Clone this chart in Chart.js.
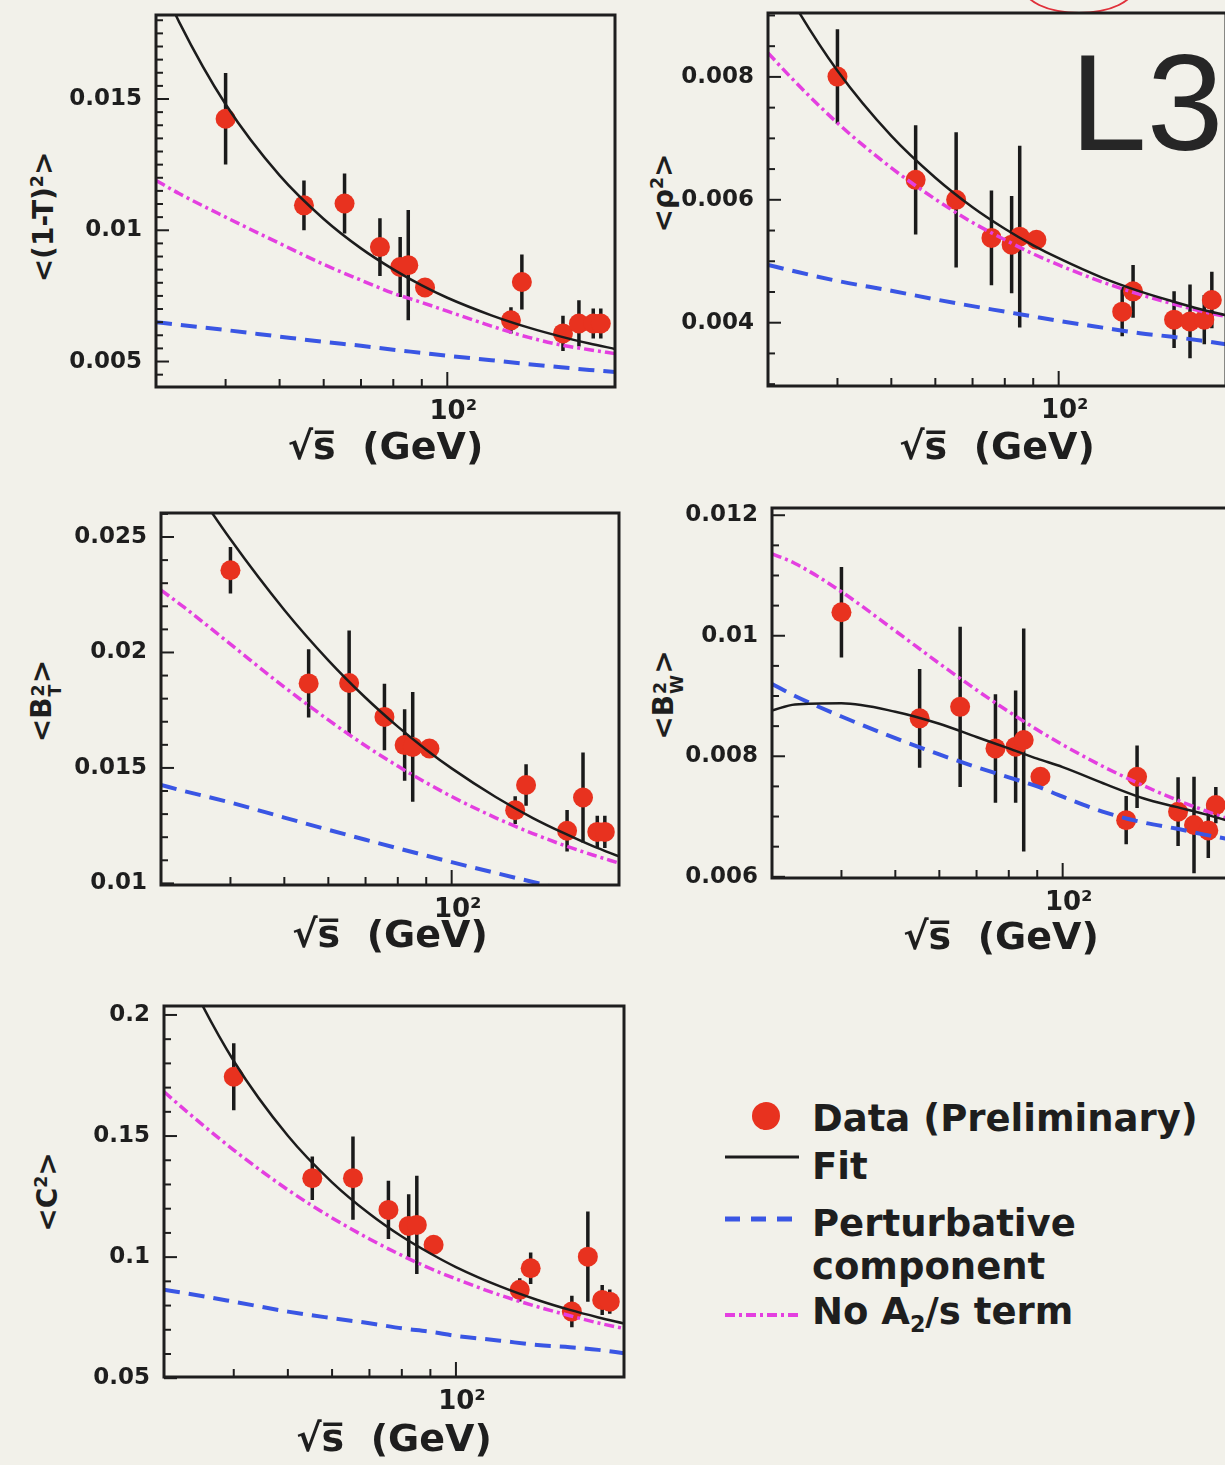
<!DOCTYPE html>
<html>
<head>
<meta charset="utf-8">
<script src="https://cdn.jsdelivr.net/npm/chart.js@4.4.1/dist/chart.umd.min.js"></script>
<style>
html,body{margin:0;padding:0;}
body{width:1225px;height:1465px;overflow:hidden;position:relative;background:#f2f1ea;font-family:"DejaVu Sans",sans-serif;color:#1e1e1e;}
canvas{position:absolute;}
.ytitle{position:absolute;transform:translate(-50%,-50%) rotate(-90deg);white-space:nowrap;font-weight:bold;font-size:28px;line-height:1;}
.ytitle sup{font-size:0.62em;vertical-align:0.6em;line-height:0;}
.stack{display:inline-flex;flex-direction:column;font-size:0.62em;line-height:0.95;vertical-align:0.4em;margin:0 1px;}
.leg{position:absolute;font-weight:bold;font-size:37px;line-height:1;white-space:nowrap;}
.leg sub{font-size:0.6em;vertical-align:-0.35em;line-height:0;}
</style>
</head>
<body>
<div class="ytitle" style="left:44px;top:217px;">&lt;(1-T)<sup>2</sup>&gt;</div>
<div class="ytitle" style="left:664px;top:193px;">&lt;ρ<sup>2</sup>&gt;</div>
<div class="ytitle" style="left:46px;top:701px;">&lt;B<span class="stack"><span>2</span><span>T</span></span>&gt;</div>
<div class="ytitle" style="left:668px;top:695px;">&lt;B<span class="stack"><span>2</span><span>W</span></span>&gt;</div>
<div class="ytitle" style="left:48px;top:1192px;">&lt;C<sup>2</sup>&gt;</div>

<div style="position:absolute;left:1070px;top:33px;font-family:'Liberation Sans',Arial,sans-serif;font-size:138px;line-height:1;color:#262626;">L3</div>
<div style="position:absolute;left:1022px;top:-42px;width:110px;height:52px;border:2px solid #e0303a;border-radius:50%;"></div>

<svg style="position:absolute;left:720px;top:1095px;" width="90" height="240">
  <circle cx="46" cy="21" r="14" fill="#e8321f"/>
  <line x1="5" y1="62" x2="79" y2="62" stroke="#1c1c1c" stroke-width="3"/>
  <line x1="5" y1="124" x2="80" y2="124" stroke="#3a56e4" stroke-width="5" stroke-dasharray="15 11"/>
  <line x1="5" y1="220" x2="82" y2="220" stroke="#e43fe0" stroke-width="4" stroke-dasharray="10 4 3 4"/>
</svg>
<div class="leg" style="left:812px;top:1100px;">Data (Preliminary)</div>
<div class="leg" style="left:812px;top:1148px;">Fit</div>
<div class="leg" style="left:812px;top:1205px;">Perturbative</div>
<div class="leg" style="left:812px;top:1248px;">component</div>
<div class="leg" style="left:812px;top:1293px;">No A<sub>2</sub>/s term</div>

<script>
// ---------- data ----------
const energies = [40, 55.3, 65.4, 75.7, 82.3, 85.1, 91.2, 130.1, 136.1, 161.3, 172.3, 182.8, 188.6];

const thrustVal = [0.01425, 0.01095, 0.01102, 0.00936, 0.0086, 0.00867, 0.00782, 0.00657, 0.00803, 0.00607, 0.00645, 0.00645, 0.00645];
const thrustErr = [0.00174, 0.00095, 0.00114, 0.0011, 0.00114, 0.0021, 0.0001, 0.0005, 0.00105, 0.00067, 0.00088, 0.00057, 0.00057];

const rhoVal = [0.008005, 0.006325, 0.006, 0.00538, 0.00527, 0.0054, 0.00535, 0.00418, 0.00451, 0.00405, 0.00402, 0.00405, 0.00437];
const rhoErr = [0.00077, 0.00089, 0.0011, 0.00077, 0.00079, 0.00148, 0.0001, 0.0004, 0.00043, 0.00046, 0.0006, 0.0004, 0.00046];

const btVal = [0.02356, 0.01866, 0.01868, 0.01721, 0.01599, 0.01591, 0.01584, 0.01317, 0.01426, 0.01228, 0.01372, 0.01223, 0.01223];
const btErr = [0.00101, 0.00148, 0.00227, 0.00144, 0.00155, 0.00238, 0.0001, 0.0006, 0.0009, 0.0009, 0.00195, 0.0007, 0.0007];

const bwVal = [0.01039, 0.00863, 0.00882, 0.00813, 0.00816, 0.00827, 0.00766, 0.00694, 0.00766, 0.00708, 0.00686, 0.00677, 0.00719];
const bwErr = [0.00075, 0.00082, 0.00133, 0.0009, 0.00093, 0.00185, 0.0001, 0.0004, 0.00052, 0.00057, 0.0008, 0.00046, 0.0003];

const cVal = [0.1745, 0.1326, 0.1326, 0.1195, 0.1129, 0.1133, 0.1051, 0.0865, 0.0954, 0.0775, 0.1002, 0.0823, 0.0816];
const cErr = [0.0138, 0.009, 0.0172, 0.012, 0.0131, 0.0203, 0.001, 0.0048, 0.0065, 0.0065, 0.0186, 0.0062, 0.005];

// curves, sampled at these energies
const curveE = [30, 33, 40, 50, 60, 70, 80, 90, 100, 120, 140, 160, 180, 200];

const thrustFit  = [0.01987, 0.01794, 0.0148, 0.01209, 0.01043, 0.00931, 0.00851, 0.0079, 0.00743, 0.00676, 0.00629, 0.00595, 0.00569, 0.00548];
const thrustNoA2 = [0.0119, 0.0114, 0.0105, 0.0095, 0.0087, 0.0081, 0.0076, 0.00725, 0.00692, 0.00635, 0.00592, 0.00563, 0.00545, 0.0053];
const thrustPert = [0.0065, 0.0064, 0.0062, 0.00595, 0.00575, 0.0056, 0.00545, 0.00533, 0.00522, 0.00505, 0.0049, 0.00478, 0.00468, 0.0046];

const rhoFit  = [0.00996, 0.00927, 0.0081, 0.00704, 0.00636, 0.00588, 0.00553, 0.00526, 0.00505, 0.00473, 0.00451, 0.00435, 0.00422, 0.00412];
const rhoNoA2 = [0.00839, 0.00799, 0.00725, 0.00652, 0.00601, 0.00563, 0.00535, 0.00512, 0.00494, 0.00466, 0.00446, 0.00431, 0.00419, 0.0041];
const rhoPert = [0.00494, 0.00485, 0.00468, 0.00452, 0.00438, 0.00427, 0.00418, 0.0041, 0.00403, 0.00392, 0.00383, 0.00377, 0.00371, 0.00365];

const btFit  = [0.02944, 0.02787, 0.0249, 0.02184, 0.01966, 0.01804, 0.01679, 0.01579, 0.01498, 0.01374, 0.01283, 0.01215, 0.0116, 0.01117];
const btNoA2 = [0.0227, 0.02196, 0.02036, 0.0185, 0.01708, 0.01596, 0.01508, 0.01436, 0.01376, 0.01284, 0.01216, 0.01163, 0.01122, 0.01088];
const btPert = [0.01426, 0.0140, 0.0135, 0.01285, 0.01232, 0.01189, 0.01152, 0.0112, 0.01092, 0.01045, 0.01006, 0.00973, 0.00945, 0.0092];

const bwFit  = [0.00876, 0.00886, 0.00888, 0.00874, 0.00854, 0.00832, 0.00813, 0.00796, 0.00782, 0.00753, 0.0073, 0.00716, 0.00704, 0.00692];
const bwNoA2 = [0.01136, 0.0112, 0.01073, 0.01008, 0.00954, 0.0091, 0.00874, 0.00844, 0.00819, 0.0078, 0.00751, 0.00728, 0.0071, 0.00695];
const bwPert = [0.0092, 0.0090, 0.00866, 0.0083, 0.00803, 0.00782, 0.00765, 0.0075, 0.00733, 0.00706, 0.0069, 0.0068, 0.0067, 0.00662];

const cFit  = [0.238, 0.2165, 0.181, 0.1501, 0.1309, 0.1179, 0.1085, 0.1015, 0.0959, 0.0879, 0.0823, 0.0782, 0.0751, 0.0726];
const cNoA2 = [0.1683, 0.160, 0.1442, 0.1278, 0.1162, 0.1075, 0.1007, 0.0953, 0.091, 0.0843, 0.0795, 0.0758, 0.0728, 0.0705];
const cPert = [0.0865, 0.085, 0.0816, 0.0775, 0.0748, 0.0727, 0.0706, 0.0692, 0.0675, 0.0655, 0.0637, 0.0628, 0.0617, 0.0603];

// axis tick labels
const xMajorTicks = [100];
const xTickLabels = ['10²'];
const xMinorTicks = [40, 50, 60, 70, 80, 90];
const xTitle = '√s̅  (GeV)';

const thrustTicks = [0.005, 0.01, 0.015];     const thrustLabels = ['0.005', '0.01', '0.015'];
const rhoTicks = [0.004, 0.006, 0.008];       const rhoLabels = ['0.004', '0.006', '0.008'];
const btTicks = [0.01, 0.015, 0.02, 0.025];   const btLabels = ['0.01', '0.015', '0.02', '0.025'];
const bwTicks = [0.006, 0.008, 0.01, 0.012];  const bwLabels = ['0.006', '0.008', '0.01', '0.012'];
const cTicks = [0.05, 0.1, 0.15, 0.2];        const cLabels = ['0.05', '0.1', '0.15', '0.2'];

// ---------- layout / style ----------
const panels = [
  {canvas:{x:0,   y:0,   w:640, h:472}, frame:{l:156, t:15,  r:615,  b:387},  yMin:0.00403, yMax:0.0182,
   vals:thrustVal, errs:thrustErr, fit:thrustFit, noA2:thrustNoA2, pert:thrustPert, ticks:thrustTicks, labels:thrustLabels, minor:0.0005},
  {canvas:{x:640, y:0,   w:600, h:472}, frame:{l:768, t:13,  r:1226, b:386},  yMin:0.00297, yMax:0.00904,
   vals:rhoVal, errs:rhoErr, fit:rhoFit, noA2:rhoNoA2, pert:rhoPert, ticks:rhoTicks, labels:rhoLabels, minor:0.0005},
  {canvas:{x:0,   y:490, w:640, h:470}, frame:{l:161, t:513, r:619,  b:885},  yMin:0.00993, yMax:0.02604,
   vals:btVal, errs:btErr, fit:btFit, noA2:btNoA2, pert:btPert, ticks:btTicks, labels:btLabels, minor:0.001},
  {canvas:{x:640, y:490, w:600, h:472}, frame:{l:772, t:508, r:1230, b:878},  yMin:0.00598, yMax:0.01212,
   vals:bwVal, errs:bwErr, fit:bwFit, noA2:bwNoA2, pert:bwPert, ticks:bwTicks, labels:bwLabels, minor:0.0005},
  {canvas:{x:0,   y:985, w:640, h:479}, frame:{l:164, t:1006, r:624, b:1377}, yMin:0.0505, yMax:0.2037,
   vals:cVal, errs:cErr, fit:cFit, noA2:cNoA2, pert:cPert, ticks:cTicks, labels:cLabels, minor:0.01}
];

const INK = '#1e1e1e';
const RED = '#e8321f';

function framePlugin(p) {
  return {
    id: 'frameTicks',
    afterDatasetsDraw(chart) {
      const {ctx, chartArea: a, scales: {x, y}} = chart;
      ctx.save();
      ctx.strokeStyle = INK;
      ctx.lineWidth = 2;
      const seg = (x1, y1, x2, y2) => { ctx.beginPath(); ctx.moveTo(x1, y1); ctx.lineTo(x2, y2); ctx.stroke(); };
      p.ticks.forEach(v => { const py = y.getPixelForValue(v); seg(a.left, py, a.left + 13, py); });
      const n0 = Math.ceil(p.yMin / p.minor), n1 = Math.floor(p.yMax / p.minor);
      for (let n = n0; n <= n1; n++) {
        const v = n * p.minor;
        if (p.ticks.some(t => Math.abs(t - v) < p.minor / 10)) continue;
        const py = y.getPixelForValue(v);
        seg(a.left, py, a.left + 7, py);
      }
      xMajorTicks.forEach(v => { const px = x.getPixelForValue(v); seg(px, a.bottom, px, a.bottom - 15); });
      xMinorTicks.forEach(v => { const px = x.getPixelForValue(v); seg(px, a.bottom, px, a.bottom - 8); });
      ctx.lineWidth = 3;
      ctx.strokeRect(a.left, a.top, a.right - a.left, a.bottom - a.top);
      ctx.restore();
    }
  };
}

panels.forEach(p => {
  const cv = document.createElement('canvas');
  cv.width = p.canvas.w; cv.height = p.canvas.h;
  cv.style.left = p.canvas.x + 'px'; cv.style.top = p.canvas.y + 'px';
  document.body.appendChild(cv);

  const padL = p.frame.l - p.canvas.x;
  const padT = p.frame.t - p.canvas.y;
  const padR = p.canvas.x + p.canvas.w - p.frame.r;
  const padB = p.canvas.y + p.canvas.h - p.frame.b;

  const errData = [];
  energies.forEach((e, i) => {
    errData.push({x: e, y: p.vals[i] - p.errs[i]});
    errData.push({x: e, y: p.vals[i] + p.errs[i]});
    errData.push({x: e, y: null});
  });
  const curve = arr => curveE.map((e, i) => ({x: e, y: arr[i]}));
  const lineBase = {type: 'line', pointRadius: 0, fill: false, clip: 0, cubicInterpolationMode: 'monotone', capBezierPoints: false};

  new Chart(cv.getContext('2d'), {
    type: 'scatter',
    data: {
      datasets: [
        Object.assign({label: 'Fit', data: curve(p.fit), borderColor: '#1c1c1c', borderWidth: 2.5, order: 0}, lineBase),
        Object.assign({label: 'No A2/s term', data: curve(p.noA2), borderColor: '#e43fe0', borderWidth: 3.5, borderDash: [10, 4, 3, 4], order: 1}, lineBase),
        Object.assign({label: 'Perturbative component', data: curve(p.pert), borderColor: '#3a56e4', borderWidth: 4, borderDash: [16, 9], order: 2}, lineBase),
        {type: 'scatter', label: 'Data (Preliminary)', data: energies.map((e, i) => ({x: e, y: p.vals[i]})),
         pointRadius: 10, pointHoverRadius: 10, backgroundColor: RED, borderWidth: 0, order: 3},
        {type: 'line', label: 'err', data: errData, borderColor: '#1a1a1a', borderWidth: 3.5, pointRadius: 0,
         spanGaps: false, fill: false, clip: 0, order: 4}
      ]
    },
    options: {
      responsive: false,
      animation: false,
      devicePixelRatio: 1,
      layout: {padding: {left: 0, top: padT, right: padR, bottom: 0}},
      plugins: {legend: {display: false}, tooltip: {enabled: false}},
      events: [],
      scales: {
        x: {
          type: 'logarithmic', min: 30, max: 200, bounds: 'data',
          afterBuildTicks: ax => { ax.ticks = xMajorTicks.map(v => ({value: v})); },
          afterFit: ax => { ax.height = padB; },
          grid: {display: false, drawTicks: false},
          border: {display: false},
          ticks: {
            callback: (v, i) => xTickLabels[i],
            autoSkip: false, maxRotation: 0, minRotation: 0,
            padding: 10, labelOffset: 6,
            color: INK, font: {family: 'DejaVu Sans', weight: 'bold', size: 26}
          },
          title: {display: true, text: xTitle, color: INK, padding: {top: 0, bottom: 0},
                  font: {family: 'DejaVu Sans', weight: 'bold', size: 38}}
        },
        y: {
          type: 'linear', min: p.yMin, max: p.yMax, bounds: 'data',
          afterBuildTicks: ax => { ax.ticks = p.ticks.map(v => ({value: v})); },
          afterFit: ax => { ax.width = padL; },
          grid: {display: false, drawTicks: true, tickLength: 14},
          border: {display: false},
          ticks: {
            callback: (v, i) => p.labels[i],
            autoSkip: false, padding: 0,
            color: INK, font: {family: 'DejaVu Sans', weight: 'bold', size: 23, lineHeight: 1}
          }
        }
      }
    },
    plugins: [framePlugin(p)]
  });
});
</script>
</body>
</html>
